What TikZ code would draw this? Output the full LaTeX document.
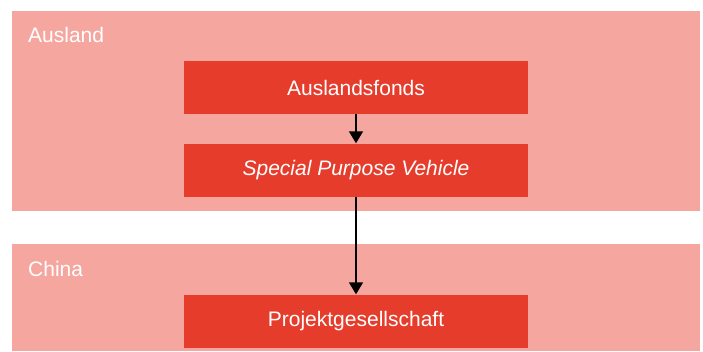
\documentclass[tikz,border=0pt]{standalone}
\usepackage{fontspec}
\setmainfont{Liberation Sans}
\usetikzlibrary{arrows.meta}
\definecolor{panelc}{HTML}{F4A69F}
\definecolor{boxc}{HTML}{E63C2B}
\tikzset{
  panel/.style={fill=panelc, draw=none},
  entity/.style={fill=boxc, draw=none, text=white, minimum width=344pt, minimum height=53pt, inner sep=0pt, font=\fontsize{21}{25}\selectfont},
  paneltitle/.style={text=white, anchor=base west, inner sep=0pt, font=\fontsize{21}{25}\selectfont},
  flow/.style={line width=1.5pt, -{Triangle[width=14pt,length=12pt]}, shorten >=0.5pt}
}
\begin{document}
\begin{tikzpicture}[x=1pt,y=-1pt]
\useasboundingbox (0,0) rectangle (703,351);
\fill[panel] (12,11) rectangle (700,211);
\fill[panel] (12,244) rectangle (700,351);
\node[paneltitle] (ausland) at (28,42) {Ausland};
\node[paneltitle] (china) at (28,276) {China};
\node[entity] (fonds) at (356,87.5) {Auslandsfonds};
\node[entity] (spv) at (356,170.5) {\itshape Special Purpose Vehicle};
\node[entity] (projekt) at (356,321.5) {Projektgesellschaft};
\draw[flow] (fonds) -- (spv);
\draw[flow] (spv) -- (projekt);
\end{tikzpicture}
\end{document}
